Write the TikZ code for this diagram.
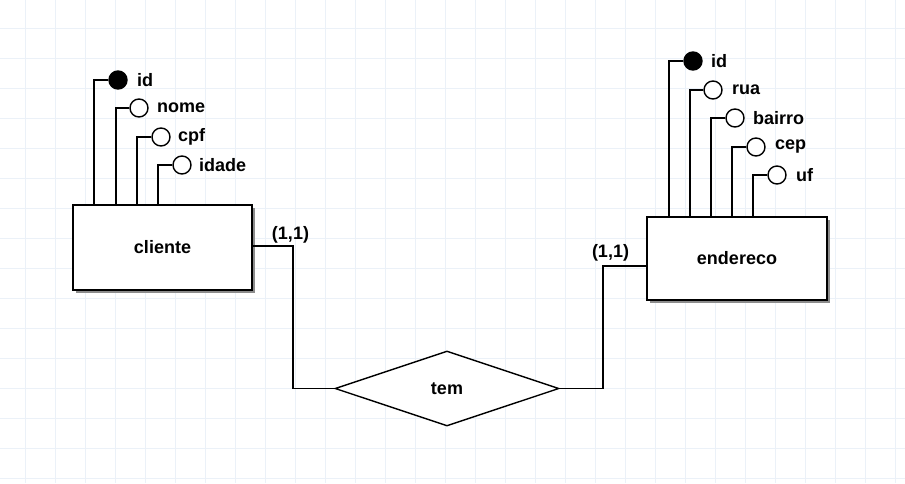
\documentclass[tikz,border=0pt]{standalone}
\usepackage{fontspec}
\setmainfont{Liberation Sans}
\usetikzlibrary{shapes.geometric,shadows}
\definecolor{gridc}{RGB}{235,241,248}
\definecolor{shadowc}{RGB}{140,140,140}
\begin{document}
\begin{tikzpicture}[x=1pt,y=-1pt,
  every node/.style={font=\fontsize{18}{21}\selectfont\bfseries},
  ln/.style={line width=1.4pt},
  entity/.style={draw,line width=1.5pt,fill=white,rectangle,inner sep=0,
    drop shadow={shadow xshift=3pt,shadow yshift=-3pt,fill=shadowc,opacity=1}},
  attr/.style={draw,line width=1.4pt,circle,fill=white,minimum size=18pt,inner sep=0},
  keyattr/.style={attr,fill=black},
  lbl/.style={anchor=west,inner sep=0},
  rel/.style={draw,line width=1.4pt,diamond,fill=white,inner sep=0,aspect=2.99,
    minimum width=224pt,minimum height=75pt}]
\useasboundingbox (0,0) rectangle (905,483);
\fill[white] (0,0) rectangle (905,483);
\foreach \gx in {25,55,...,895} \draw[gridc,line width=1pt] (\gx,0) -- (\gx,483);
\foreach \gy in {28,58,...,478} \draw[gridc,line width=1pt] (0,\gy) -- (905,\gy);

% entities
\node[entity,minimum width=179pt,minimum height=85pt] (cliente) at (162.5,247.5) {\raisebox{-1.5pt}{cliente}};
\node[entity,minimum width=180pt,minimum height=83pt] (endereco) at (737,258.5) {\raisebox{-1.5pt}{endereco}};

% cliente attributes
\node[keyattr] (c1) at (118,80) {};
\node[attr] (c2) at (139,108) {};
\node[attr] (c3) at (161,137) {};
\node[attr] (c4) at (182,165) {};
\node[lbl] (c1l) at (137,80) {id};
\node[lbl] (c2l) at (157,108) {nome};
\node[lbl] (c3l) at (178,137) {cpf};
\node[lbl] (c4l) at (199,165) {idade};
\coordinate (ct1) at (94,205);
\coordinate (ct2) at (116,205);
\coordinate (ct3) at (137,205);
\coordinate (ct4) at (158,205);
\draw[ln] (c1.west) -| (ct1);
\draw[ln] (c2.west) -| (ct2);
\draw[ln] (c3.west) -| (ct3);
\draw[ln] (c4.west) -| (ct4);

% endereco attributes
\node[keyattr] (e1) at (693,61) {};
\node[attr] (e2) at (713,90) {};
\node[attr] (e3) at (735,118) {};
\node[attr] (e4) at (756,147) {};
\node[attr] (e5) at (777,175) {};
\node[lbl] (e1l) at (711,61) {id};
\node[lbl] (e2l) at (732,90) {rua};
\node[lbl] (e3l) at (753,118) {bairro};
\node[lbl] (e4l) at (775,147) {cep};
\node[lbl] (e5l) at (796,175) {uf};
\coordinate (et1) at (669,217);
\coordinate (et2) at (690,217);
\coordinate (et3) at (711,217);
\coordinate (et4) at (732,217);
\coordinate (et5) at (753,217);
\draw[ln] (e1.west) -| (et1);
\draw[ln] (e2.west) -| (et2);
\draw[ln] (e3.west) -| (et3);
\draw[ln] (e4.west) -| (et4);
\draw[ln] (e5.west) -| (et5);

% relationship
\node[rel] (tem) at (447,388.5) {\raisebox{-1pt}{tem}};
\coordinate (k1) at (293,388.5);
\coordinate (k2) at (603,266);
\draw[ln] (cliente.east |- 0,246) -| (k1) -- (tem.west);
\draw[ln] (tem.east) -| (k2) -- (k2 -| endereco.west);
\node (card1) at (290.5,235) {(1,1)};
\node (card2) at (610.5,253) {(1,1)};
\end{tikzpicture}
\end{document}
